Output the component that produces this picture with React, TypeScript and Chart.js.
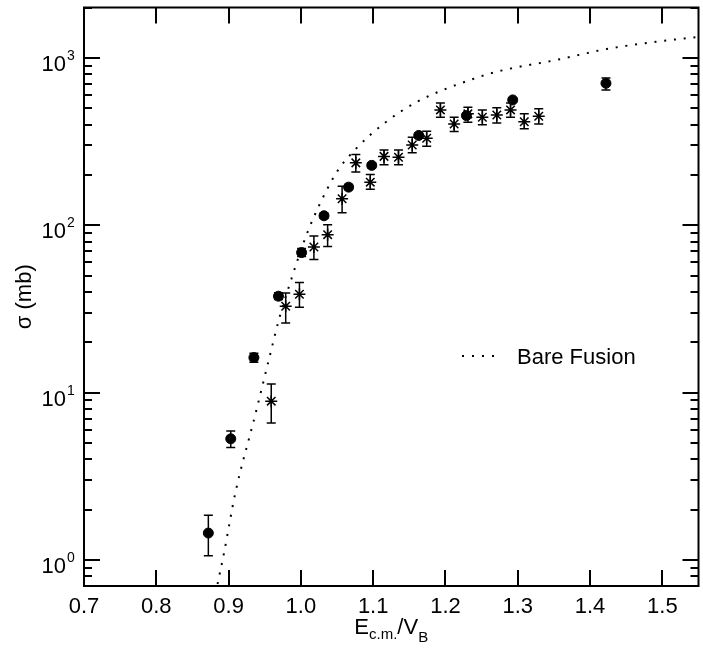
import React, { useEffect, useRef } from "react";
import { Chart, registerables } from "chart.js";

Chart.register(...registerables);

// ---- data ----
const circleX = [0.872, 0.903, 0.935, 0.969, 1.001, 1.032, 1.066, 1.098, 1.163, 1.229, 1.293, 1.422];
const circleY = [1.45, 5.3, 16.2, 37.7, 68.7, 114, 169, 228, 344, 452, 561, 705];
const circleLo = [1.06, 4.7, 15.2, 36, 65, 110, 163, 220, 333, 440, 545, 644];
const circleHi = [1.85, 5.9, 17.2, 39.5, 72.7, 118, 175, 236, 355, 465, 577, 759];

const starX = [0.959, 0.979, 0.998, 1.018, 1.037, 1.057, 1.076, 1.096, 1.115, 1.135, 1.154, 1.174, 1.193, 1.212, 1.231, 1.251, 1.271, 1.29, 1.309, 1.329];
const starY = [8.9, 32.8, 38.7, 74.1, 87.9, 144, 236, 181, 258, 255, 302, 331, 489, 403, 463, 442, 456, 489, 415, 448];
const starLo = [6.6, 26.1, 32.4, 62.4, 74.8, 119, 208, 164, 230, 230, 271, 297, 442, 363, 413, 398, 409, 442, 377, 403];
const starHi = [11.25, 39.4, 45.5, 86.3, 100.8, 171, 265, 201, 282, 282, 336, 365, 538, 442, 507, 489, 503, 538, 463, 496];

const bareX = [0.882, 0.8858, 0.894, 0.9017, 0.9094, 0.9368, 0.9564, 0.97, 0.986, 1.0033, 1.0187, 1.0497, 1.076, 1.116, 1.162, 1.238, 1.277, 1.355, 1.423, 1.491, 1.531, 1.55];
const bareY = [0.63, 0.757, 1.12, 1.7, 2.53, 7.35, 16.2, 27.7, 46.5, 77.7, 114, 208, 286, 409, 550, 748, 839, 975, 1130, 1249, 1307, 1335];

const xTicks = [0.7, 0.8, 0.9, 1.0, 1.1, 1.2, 1.3, 1.4, 1.5];
const xTickLabels = ["0.7", "0.8", "0.9", "1.0", "1.1", "1.2", "1.3", "1.4", "1.5"];
const yMajorTicks = [1, 10, 100, 1000];
const yMajorExp = ["0", "1", "2", "3"];
const yMinorMultipliers = [2, 3, 4, 5, 6, 7, 8, 9];

const legendLabel = "Bare Fusion";
const yTitle = "σ (mb)";

const FONT = '"Liberation Sans", Arial, Helvetica, sans-serif';

const overlay = {
  id: "overlay",
  beforeDatasetsDraw(chart: any) {
    const ctx = chart.ctx;
    const xs = chart.scales.x;
    const ys = chart.scales.y;
    const a = chart.chartArea;
    ctx.save();
    ctx.beginPath();
    ctx.rect(a.left, a.top, a.right - a.left, a.bottom - a.top);
    ctx.clip();
    ctx.strokeStyle = "#000";
    ctx.lineWidth = 1.5;
    const bars = (X: number[], L: number[], H: number[]) => {
      for (let i = 0; i < X.length; i++) {
        const px = xs.getPixelForValue(X[i]);
        const pl = ys.getPixelForValue(L[i]);
        const ph = ys.getPixelForValue(H[i]);
        ctx.beginPath();
        ctx.moveTo(px, pl);
        ctx.lineTo(px, ph);
        ctx.moveTo(px - 4.5, pl);
        ctx.lineTo(px + 4.5, pl);
        ctx.moveTo(px - 4.5, ph);
        ctx.lineTo(px + 4.5, ph);
        ctx.stroke();
      }
    };
    bars(circleX, circleLo, circleHi);
    bars(starX, starLo, starHi);
    ctx.restore();
  },
  afterDraw(chart: any) {
    const ctx = chart.ctx;
    const xs = chart.scales.x;
    const ys = chart.scales.y;
    const a = chart.chartArea;
    ctx.save();
    ctx.strokeStyle = "#000";
    ctx.fillStyle = "#000";
    ctx.lineWidth = 2;
    // frame
    ctx.beginPath();
    ctx.rect(a.left, a.top, a.right - a.left, a.bottom - a.top);
    ctx.stroke();
    // x ticks
    ctx.beginPath();
    xTicks.forEach((v) => {
      const px = Math.round(xs.getPixelForValue(v));
      ctx.moveTo(px, a.bottom);
      ctx.lineTo(px, a.bottom - 16);
      ctx.moveTo(px, a.top);
      ctx.lineTo(px, a.top + 16);
    });
    // y ticks
    yMajorTicks.forEach((v) => {
      const py = Math.round(ys.getPixelForValue(v));
      ctx.moveTo(a.left, py);
      ctx.lineTo(a.left + 16, py);
      ctx.moveTo(a.right, py);
      ctx.lineTo(a.right - 16, py);
    });
    [0.1, 1, 10, 100, 1000].forEach((d) => {
      yMinorMultipliers.forEach((m) => {
        const v = d * m;
        if (v < ys.min - 1e-9 || v > ys.max + 1e-9) return;
        const py = Math.round(ys.getPixelForValue(v));
        ctx.moveTo(a.left, py);
        ctx.lineTo(a.left + 8, py);
        ctx.moveTo(a.right, py);
        ctx.lineTo(a.right - 8, py);
      });
    });
    ctx.stroke();

    // x tick labels
    ctx.font = `22px ${FONT}`;
    ctx.textAlign = "center";
    ctx.textBaseline = "alphabetic";
    xTicks.forEach((v, i) => {
      ctx.fillText(xTickLabels[i], xs.getPixelForValue(v), a.bottom + 27);
    });
    // y tick labels
    yMajorTicks.forEach((v, i) => {
      const py = ys.getPixelForValue(v);
      ctx.font = `22px ${FONT}`;
      ctx.textAlign = "right";
      ctx.fillText("10", a.left - 18, py + 13);
      ctx.font = `14px ${FONT}`;
      ctx.textAlign = "left";
      ctx.fillText(yMajorExp[i], a.left - 17, py + 2);
    });

    // y title
    ctx.save();
    ctx.translate(25, (a.top + a.bottom) / 2);
    ctx.rotate(-Math.PI / 2);
    ctx.font = `22px ${FONT}`;
    ctx.textAlign = "center";
    ctx.textBaseline = "middle";
    ctx.fillText(yTitle, 0, 0);
    ctx.restore();

    // x title: E_{c.m.}/V_B
    const parts: [string, number, number][] = [
      ["E", 22, 0],
      ["c.m.", 15, 5],
      ["/V", 22, 0],
      ["B", 15, 8],
    ];
    let total = 0;
    parts.forEach(([t, s]) => {
      ctx.font = `${s}px ${FONT}`;
      total += ctx.measureText(t).width;
    });
    let cx = (a.left + a.right) / 2 - total / 2;
    ctx.textAlign = "left";
    parts.forEach(([t, s, dy]) => {
      ctx.font = `${s}px ${FONT}`;
      ctx.fillText(t, cx, 634 + dy);
      cx += ctx.measureText(t).width;
    });

    // legend
    ctx.beginPath();
    ctx.lineWidth = 2;
    ctx.setLineDash([2, 8]);
    ctx.moveTo(462, 356);
    ctx.lineTo(500, 356);
    ctx.stroke();
    ctx.setLineDash([]);
    ctx.font = `22px ${FONT}`;
    ctx.textAlign = "left";
    ctx.fillText(legendLabel, 517, 364);
    ctx.restore();
  },
};

export default function App() {
  const ref = useRef<HTMLCanvasElement | null>(null);
  useEffect(() => {
    if (!ref.current) return;
    const chart = new Chart(ref.current, {
      type: "scatter",
      data: {
        datasets: [
          {
            label: legendLabel,
            data: bareX.map((x, i) => ({ x, y: bareY[i] })),
            showLine: true,
            borderColor: "#000",
            borderWidth: 2,
            borderDash: [2, 7.8],
            pointRadius: 0,
            cubicInterpolationMode: "monotone",
            order: 3,
          } as any,
          {
            label: "circles",
            data: circleX.map((x, i) => ({ x, y: circleY[i] })),
            pointStyle: "circle",
            pointRadius: 5,
            borderWidth: 1,
            backgroundColor: "#000",
            borderColor: "#000",
            order: 2,
          },
          {
            label: "stars",
            data: starX.map((x, i) => ({ x, y: starY[i] })),
            pointStyle: "star",
            pointRadius: 6,
            borderWidth: 1.5,
            backgroundColor: "#000",
            borderColor: "#000",
            order: 1,
          },
        ],
      },
      options: {
        animation: false,
        responsive: false,
        devicePixelRatio: 1,
        events: [],
        layout: { padding: { left: 84, top: 6, right: 0, bottom: 64 } },
        plugins: { legend: { display: false }, tooltip: { enabled: false } },
        scales: {
          x: { type: "linear", min: 0.7, max: 1.55, display: false },
          y: { type: "logarithmic", min: 0.7, max: 2000, display: false },
        },
      },
      plugins: [overlay],
    });
    return () => chart.destroy();
  }, []);
  return (
    <div
      style={{
        position: "fixed",
        left: 0,
        top: 0,
        width: 703,
        height: 650,
        overflow: "hidden",
        background: "#fff",
      }}
    >
      <canvas ref={ref} width={706} height={650} style={{ width: 706, height: 650, display: "block" }} />
    </div>
  );
}
